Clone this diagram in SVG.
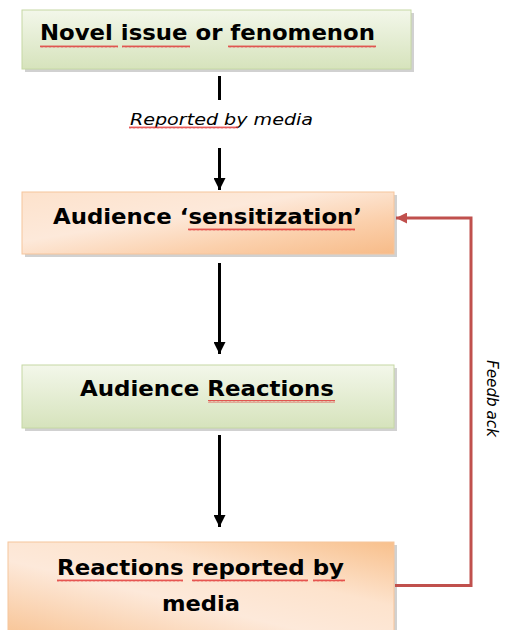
<svg xmlns="http://www.w3.org/2000/svg" width="505" height="630" viewBox="0 0 505 630">
  <defs>
    <linearGradient id="gGreen" x1="0" y1="0" x2="0" y2="1">
      <stop offset="0" stop-color="#f3f7ea"/>
      <stop offset="1" stop-color="#d6e3bc"/>
    </linearGradient>
    <linearGradient id="gOrange" x1="0" y1="0" x2="1" y2="1">
      <stop offset="0" stop-color="#fde2cc"/>
      <stop offset="0.4" stop-color="#fde9da"/>
      <stop offset="0.7" stop-color="#fbd0ac"/>
      <stop offset="1" stop-color="#f7bb88"/>
    </linearGradient>
    <linearGradient id="gOrange2" x1="1" y1="0" x2="0" y2="1">
      <stop offset="0" stop-color="#f8c08c"/>
      <stop offset="0.35" stop-color="#fde3cd"/>
      <stop offset="0.6" stop-color="#fde9da"/>
      <stop offset="1" stop-color="#f8c597"/>
    </linearGradient>
    <marker id="arrowBlack" markerWidth="12" markerHeight="12" refX="10" refY="5" orient="auto" markerUnits="userSpaceOnUse" viewBox="0 0 10 10">
      <path d="M0,0 L10,5 L0,10 z" fill="#000"/>
    </marker>
    <marker id="arrowRed" markerWidth="13" markerHeight="11" refX="10" refY="5" orient="auto" markerUnits="userSpaceOnUse" viewBox="0 0 10 10">
      <path d="M0,0 L10,5 L0,10 z" fill="#c0504d"/>
    </marker>
    <pattern id="squiggle" width="4" height="3" patternUnits="userSpaceOnUse">
      <path d="M0,2.5 L1,0.5 L2,2.5 L3,0.5 L4,2.5" fill="none" stroke="#e03030" stroke-width="0.8"/>
    </pattern>
  </defs>
  <style>
    .shadow { fill: #9a9a9a; opacity: 0.45; }
    .green { fill: url(#gGreen); stroke: #c6d8a4; stroke-width: 1; }
    .orange { fill: url(#gOrange); stroke: #f6c59c; stroke-width: 1; }
    .orange2 { fill: url(#gOrange2); stroke: #f6c59c; stroke-width: 1; }
    .label { font-family: "DejaVu Sans", Verdana, sans-serif; font-weight: bold; font-size: 22px; fill: #000; }
    .note { font-family: "DejaVu Sans", Verdana, sans-serif; font-style: italic; font-size: 16px; fill: #000; }
    .flow { stroke: #000; stroke-width: 3; fill: none; }
    .feedback { stroke: #c0504d; stroke-width: 3; fill: none; }
    .wavy { fill: url(#squiggle); }
  </style>

  <!-- nodes -->
  <g id="node-novel">
    <rect class="shadow" x="25" y="13" width="389" height="59"/>
    <rect class="green" x="22" y="10" width="389" height="59"/>
    <text class="label" x="40" y="40" textLength="335" lengthAdjust="spacingAndGlyphs">Novel issue or fenomenon</text>
    <rect class="wavy" x="40" y="45" width="78" height="3"/>
    <rect class="wavy" x="122" y="45" width="68" height="3"/>
    <rect class="wavy" x="228" y="45" width="148" height="3"/>
  </g>

  <g id="node-sensitization">
    <rect class="shadow" x="25" y="195" width="372" height="62"/>
    <rect class="orange" x="22" y="192" width="372" height="62"/>
    <text class="label" x="53" y="224" textLength="309" lengthAdjust="spacingAndGlyphs">Audience ‘sensitization’</text>
    <rect class="wavy" x="188" y="228" width="167" height="3"/>
  </g>

  <g id="node-reactions">
    <rect class="shadow" x="25" y="368" width="372" height="63"/>
    <rect class="green" x="22" y="365" width="372" height="63"/>
    <text class="label" x="80" y="396" textLength="254" lengthAdjust="spacingAndGlyphs">Audience Reactions</text>
    <rect class="wavy" x="208" y="400" width="127" height="3"/>
  </g>

  <g id="node-reported">
    <rect class="shadow" x="11" y="545" width="386" height="90"/>
    <rect class="orange2" x="8" y="542" width="386" height="92"/>
    <text class="label" x="57" y="575" textLength="287" lengthAdjust="spacingAndGlyphs">Reactions reported by</text>
    <text class="label" x="162" y="611" textLength="78" lengthAdjust="spacingAndGlyphs">media</text>
    <rect class="wavy" x="57" y="579" width="126" height="3"/>
    <rect class="wavy" x="192" y="579" width="116" height="3"/>
    <rect class="wavy" x="313" y="579" width="32" height="3"/>
  </g>

  <!-- connectors -->
  <g id="connectors">
    <line class="flow" x1="219.5" y1="76" x2="219.5" y2="100"/>
    <text class="note" x="130" y="125" textLength="183" lengthAdjust="spacingAndGlyphs">Reported by media</text>
    <rect class="wavy" x="129" y="126" width="109" height="3"/>
    <line class="flow" x1="219.5" y1="148" x2="219.5" y2="190" marker-end="url(#arrowBlack)"/>
    <line class="flow" x1="219.5" y1="263" x2="219.5" y2="354" marker-end="url(#arrowBlack)"/>
    <line class="flow" x1="219.5" y1="435" x2="219.5" y2="527" marker-end="url(#arrowBlack)"/>
    <polyline class="feedback" points="395,585.5 471,585.5 471,218 396,218" marker-end="url(#arrowRed)"/>
    <text class="note" transform="translate(487,360) rotate(90)" textLength="77" lengthAdjust="spacingAndGlyphs">Feedb<tspan dx="4">ack</tspan></text>
  </g>
</svg>
